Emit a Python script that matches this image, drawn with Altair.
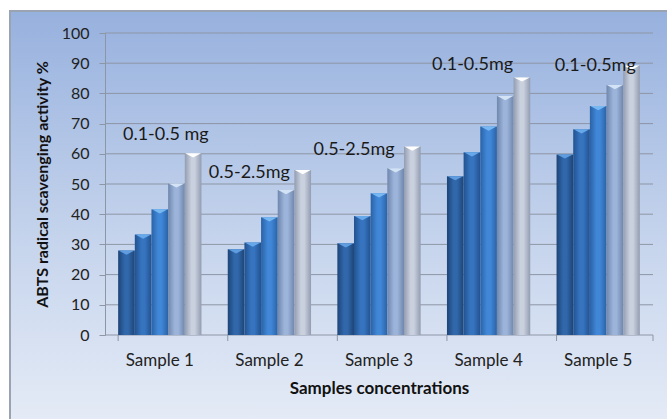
import altair as alt
import pandas as pd

samples = ["Sample 1", "Sample 2", "Sample 3", "Sample 4", "Sample 5"]
series = ["c1", "c2", "c3", "c4", "c5"]
values = {
    "c1": [28.0, 28.4, 30.4, 52.6, 59.8],
    "c2": [33.3, 30.6, 39.4, 60.5, 68.1],
    "c3": [41.6, 39.0, 46.9, 69.0, 75.8],
    "c4": [50.2, 48.0, 55.2, 79.1, 82.8],
    "c5": [60.2, 54.6, 62.4, 85.3, 89.2],
}
annot_texts = ["0.1-0.5 mg", "0.5-2.5mg", "0.5-2.5mg", "0.1-0.5mg", "0.1-0.5mg"]
annot_y = [66.2, 53.6, 61.3, 89.4, 89.0]
yticks = [0, 10, 20, 30, 40, 50, 60, 70, 80, 90, 100]

# styling
annot_dx = [6, -20, -25, -16, -3]
edge_cols = ["#1d4477", "#22528f", "#2a62a6", "#6f86ad", "#939db1"]
mid_cols = ["#3168ab", "#3674c0", "#4187d8", "#9cb3da", "#c9d0de"]
cap_cols = ["#5f9de0", "#67a8ea", "#78b8f2", "#d3e3f5", "#ffffff"]
FONT = "Lato"
W, H = 548, 302

rows = []
for s in series:
    for smp, v in zip(samples, values[s]):
        rows.append({"sample": smp, "series": s, "value": v})
df = pd.DataFrame(rows)

xscale = alt.Scale(domain=samples, paddingInner=0.24, paddingOuter=0.12)
yscale = alt.Scale(domain=[0, 100], nice=False)
oscale = alt.Scale(domain=series)

X_AX = alt.Axis(labelAngle=0, ticks=False, grid=False, domain=False, zindex=1,
                labelFont=FONT, labelFontSize=17, labelColor="#222", labelPadding=17,
                title="Samples concentrations", titleFont=FONT, titleFontSize=17,
                titleFontWeight="bold", titleColor="#111", titlePadding=12)
Y_AX = alt.Axis(values=yticks, grid=False, domainColor="#8d96a5", tickColor="#8d96a5",
                zindex=1, tickSize=6, labelFont=FONT, labelFontSize=16, labelColor="#222",
                labelPadding=10, title="ABTS radical scavenging activity %",
                titleFont=FONT, titleFontSize=16, titleFontWeight="bold",
                titleColor="#111", titlePadding=11)

xenc = alt.X("sample:N", scale=xscale, axis=X_AX, sort=samples)
yenc = alt.Y("value:Q", scale=yscale, axis=Y_AX)

bg = alt.Chart(pd.DataFrame({"a": [0]})).mark_rect(
    fill=alt.LinearGradient(gradient="linear", x1=0, x2=0, y1=0, y2=1,
                            stops=[alt.GradientStop(color="#97b1de", offset=0),
                                   alt.GradientStop(color="#c4d3ec", offset=0.5),
                                   alt.GradientStop(color="#eaeff8", offset=1)]),
    stroke="#9aa3b2", strokeWidth=2,
).encode(x=alt.value(-95), x2=alt.value(620), y=alt.value(-22), y2=alt.value(420))

grid = alt.Chart(pd.DataFrame({"value": yticks})).mark_rule(
    color="#8d96a5", strokeWidth=1
).encode(y=yenc, x=alt.value(0), x2=alt.value(W))

xticks = alt.Chart(pd.DataFrame({"sample": samples})).mark_rule(
    color="#8d96a5", strokeWidth=1
).encode(x=alt.X("sample:N", scale=xscale, axis=X_AX, sort=samples, bandPosition=0),
         y=alt.value(H), y2=alt.value(H + 6))
xtick_end = alt.Chart(pd.DataFrame({"a": [0]})).mark_rule(
    color="#8d96a5", strokeWidth=1
).encode(x=alt.value(W), y=alt.value(H), y2=alt.value(H + 6))

layers = [bg, grid, xticks, xtick_end]
for i, s in enumerate(series):
    grad = alt.LinearGradient(gradient="linear", x1=0, x2=1, y1=0, y2=0,
                              stops=[alt.GradientStop(color=edge_cols[i], offset=0),
                                     alt.GradientStop(color=mid_cols[i], offset=0.4),
                                     alt.GradientStop(color=mid_cols[i], offset=0.6),
                                     alt.GradientStop(color=edge_cols[i], offset=1)])
    bars = alt.Chart(df[df.series == s]).mark_bar(color=grad).encode(
        x=xenc, y=yenc, xOffset=alt.XOffset("series:N", scale=oscale))
    caps = alt.Chart(df[df.series == s]).mark_point(
        shape="M-0.95,0L0.95,0L0,0.5Z", filled=True, opacity=1, size=282,
        color=cap_cols[i], strokeWidth=0
    ).encode(x=xenc, y=yenc, xOffset=alt.XOffset("series:N", scale=oscale))
    layers += [bars, caps]

for smp, t, yv, dx in zip(samples, annot_texts, annot_y, annot_dx):
    layers.append(
        alt.Chart(pd.DataFrame({"sample": [smp], "value": [yv], "t": [t]})).mark_text(
            font=FONT, fontSize=18, color="#1a1a1a", baseline="middle", dx=dx
        ).encode(x=xenc, y=yenc, text="t:N")
    )

chart = alt.layer(*layers).properties(
    width=W, height=H,
    padding={"left": 105, "top": 33, "right": 14, "bottom": 84},
    autosize=alt.AutoSizeParams(type="none"),
).configure_view(stroke=None)

chart.save("out.html", embed_options={"renderer": "svg", "actions": False})
